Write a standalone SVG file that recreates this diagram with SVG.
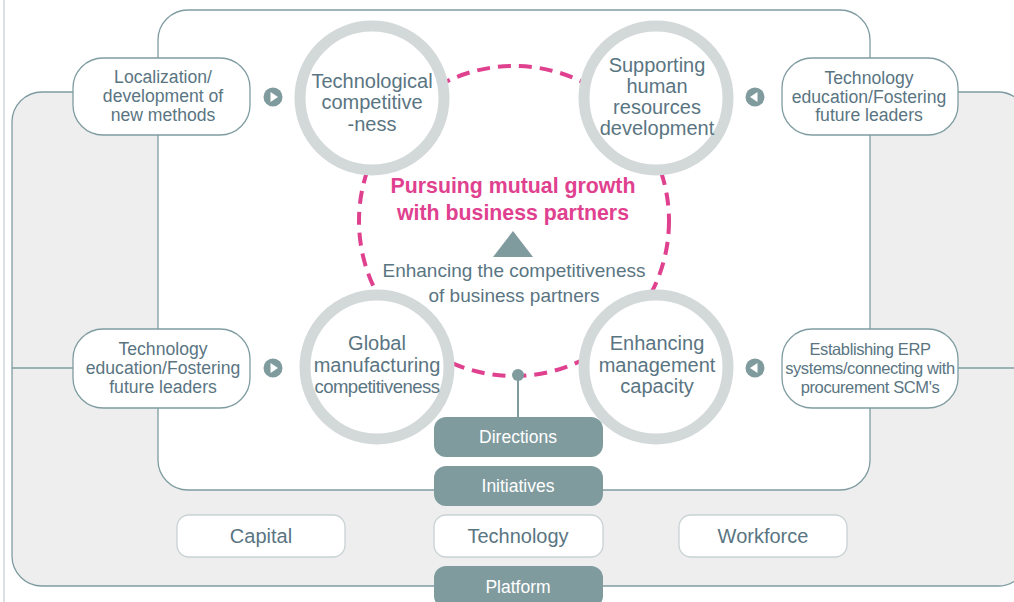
<svg xmlns="http://www.w3.org/2000/svg" width="1014" height="602" viewBox="0 0 1014 602">
<style>
.t{font-family:"Liberation Sans",Arial,sans-serif;fill:#5a7582;text-anchor:middle}
.s17{font-size:17.6px}
.s19{font-size:19px}
.s20{font-size:20px}
.w{font-family:"Liberation Sans",Arial,sans-serif;fill:#ffffff;text-anchor:middle;font-size:17.5px}
.pill{fill:#ffffff;stroke:#7f9ca1;stroke-width:1.3}
.ring{fill:#ffffff;stroke:#d3d8d9;stroke-width:11}
.dark{fill:#7f9b9e}
.light{fill:#ffffff;stroke:#c9d2d4;stroke-width:1.3}
.ln{stroke:#7f9ca1;stroke-width:1.3;fill:none}
.mag{font-family:"Liberation Sans",Arial,sans-serif;fill:#e0418f;font-weight:bold;font-size:21.3px;text-anchor:middle}
</style>
<defs>
<g id="arrR"><circle r="9.5" class="dark"/><path d="M-2.5,-5 L5,0 L-2.5,5 Z" fill="#ffffff"/></g>
<g id="arrL"><circle r="9.5" class="dark"/><path d="M2.5,-5 L-5,0 L2.5,5 Z" fill="#ffffff"/></g>
</defs>
<rect width="1014" height="602" fill="#ffffff"/>
<line x1="4" y1="0" x2="4" y2="602" stroke="#cfd6d8" stroke-width="1.5"/>
<g id="outer-panel">
<rect x="12" y="92" width="1016" height="494" rx="30" fill="#edeeed" stroke="#7f9ca1" stroke-width="1.3"/>
</g>
<g id="inner-panel">
<rect x="158" y="10" width="712" height="480" rx="30" fill="#ffffff" stroke="#7f9ca1" stroke-width="1.3"/>
</g>
<g id="connectors">
<line x1="12" y1="368" x2="73" y2="368" class="ln"/>
<line x1="958" y1="368" x2="1014" y2="368" class="ln"/>
<line x1="518" y1="375" x2="518" y2="417" stroke="#7f9b9e" stroke-width="2"/>
<use href="#arrR" x="273" y="97"/>
<use href="#arrR" x="273" y="368"/>
<use href="#arrL" x="755" y="97"/>
<use href="#arrL" x="755" y="368"/>
</g>
<g id="mutual-growth">
<circle cx="514" cy="221" r="155" fill="none" stroke="#e0418f" stroke-width="4" stroke-dasharray="13 8"/>
<circle cx="518" cy="375" r="6" class="dark"/>
<text class="mag" x="513" y="193">Pursuing mutual growth</text>
<text class="mag" x="513" y="220">with business partners</text>
<path d="M513,231 L533,257 L493,257 Z" class="dark"/>
<text class="t s19" x="514" y="277">Enhancing the competitiveness</text>
<text class="t s19" x="514" y="302">of business partners</text>
</g>
<g id="circle-tech">
<circle cx="372" cy="98" r="72" class="ring"/>
<text class="t s20" x="372" y="88">Technological</text>
<text class="t s20" x="372" y="109">competitive</text>
<text class="t s20" x="372" y="131">-ness</text>
</g>
<g id="circle-hr">
<circle cx="656" cy="98" r="72" class="ring"/>
<text class="t s20" x="657" y="72">Supporting</text>
<text class="t s20" x="657" y="93">human</text>
<text class="t s20" x="657" y="114">resources</text>
<text class="t s20" x="657" y="135">development</text>
</g>
<g id="circle-global">
<circle cx="377" cy="367" r="72" class="ring"/>
<text class="t s20" x="377" y="350">Global</text>
<text class="t s20" x="377" y="372">manufacturing</text>
<text class="t" x="377" y="393" font-size="18.5" letter-spacing="-0.5">competitiveness</text>
</g>
<g id="circle-mgmt">
<circle cx="656" cy="367" r="72" class="ring"/>
<text class="t s20" x="657" y="350">Enhancing</text>
<text class="t s20" x="657" y="372">management</text>
<text class="t s20" x="657" y="393">capacity</text>
</g>
<g id="box-localization">
<rect x="73" y="58" width="177" height="77" rx="30" class="pill"/>
<text class="t s17" x="163" y="83">Localization/</text>
<text class="t s17" x="163" y="102">development of</text>
<text class="t s17" x="163" y="121">new methods</text>
</g>
<g id="box-tech-edu-top">
<rect x="782" y="58" width="176" height="77" rx="30" class="pill"/>
<text class="t s17" x="869" y="84">Technology</text>
<text class="t s17" x="869" y="103">education/Fostering</text>
<text class="t s17" x="869" y="121">future leaders</text>
</g>
<g id="box-tech-edu-bottom">
<rect x="73" y="329" width="177" height="79" rx="30" class="pill"/>
<text class="t s17" x="163" y="355">Technology</text>
<text class="t s17" x="163" y="374">education/Fostering</text>
<text class="t s17" x="163" y="393">future leaders</text>
</g>
<g id="box-erp">
<rect x="782" y="329" width="176" height="79" rx="30" class="pill"/>
<text class="t" x="870" y="355" font-size="16.5" letter-spacing="-0.4">Establishing ERP</text>
<text class="t" x="870" y="374" font-size="16.5" letter-spacing="-0.4">systems/connecting with</text>
<text class="t" x="870" y="393" font-size="16.5" letter-spacing="-0.4">procurement SCM's</text>
</g>
<g id="box-directions">
<rect x="434" y="417" width="169" height="40" rx="12" class="dark"/>
<text class="w" x="518" y="443">Directions</text>
</g>
<g id="box-initiatives">
<rect x="434" y="466" width="169" height="40" rx="12" class="dark"/>
<text class="w" x="518" y="492">Initiatives</text>
</g>
<g id="box-capital">
<rect x="177" y="515" width="168" height="42" rx="12" class="light"/>
<text class="t s20" x="261" y="543">Capital</text>
</g>
<g id="box-technology">
<rect x="434" y="515" width="169" height="42" rx="12" class="light"/>
<text class="t s20" x="518" y="543">Technology</text>
</g>
<g id="box-workforce">
<rect x="679" y="515" width="168" height="42" rx="12" class="light"/>
<text class="t s20" x="763" y="543">Workforce</text>
</g>
<g id="box-platform">
<rect x="434" y="566" width="169" height="42" rx="12" class="dark"/>
<text class="w" x="518" y="593">Platform</text>
</g>
</svg>
